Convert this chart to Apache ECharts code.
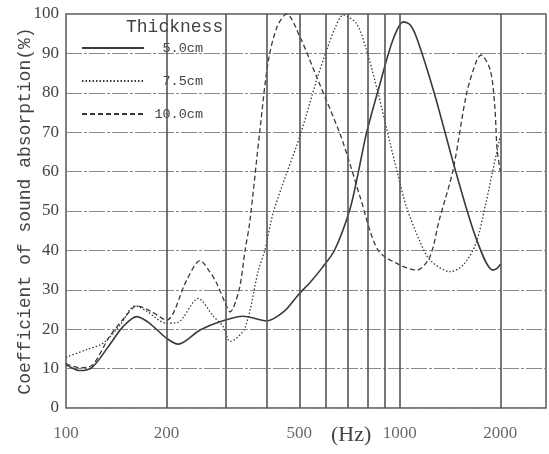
<!DOCTYPE html>
<html>
<head>
<meta charset="utf-8">
<script src="https://cdn.jsdelivr.net/npm/echarts@6/dist/echarts.min.js"></script>
<style>
  html, body { margin: 0; padding: 0; background: #fff; }
  #main { width: 549px; height: 454px; }
</style>
</head>
<body>
<div id="main"></div>
<script>
// 5.0cm (solid)
var curve50 = [[100, 11], [104, 10.2], [110, 9.5], [120, 10.4], [135, 16], [148, 20.6], [163, 23.2], [178, 21.5],
  [200, 17.7], [217, 16.2], [252, 19.8], [289, 21.9], [339, 23.3], [399, 22.1], [450, 24.5], [496, 28.7],
  [540, 32], [584, 35.5], [638, 40.1], [708, 50.3], [750, 59.6], [794, 69.7], [870, 82], [953, 93.4],
  [1025, 98], [1075, 97.2], [1129, 93.4], [1268, 79.9], [1475, 59.6], [1700, 42.6], [1900, 35],
  [1960, 35.5], [2000, 36.5]];
// 7.5cm (dotted)
var curve75 = [[100, 12.9], [115, 14.8], [129, 16.4], [145, 21], [161, 25.9], [175, 24.5], [200, 21.5],
  [216, 21.7], [249, 27.8], [275, 23.5], [296, 20.6], [310, 16.9], [343, 20.2], [377, 35], [394, 40],
  [417, 49.4], [458, 59.6], [502, 69], [563, 83.2], [604, 90.9], [640, 96.5], [676, 99.7], [741, 97.6],
  [794, 90.9], [860, 80], [935, 67.2], [990, 58.7], [1046, 51.1], [1144, 42.6], [1230, 37.6],
  [1417, 34.6], [1548, 36.3], [1690, 41.8], [1810, 52], [1900, 60.4], [2000, 69]];
// 10.0cm (dashed)
var curve100 = [[100, 11.3], [110, 10.2], [120, 10.9], [135, 18.1], [150, 23], [163, 25.9], [180, 24.5],
  [200, 22.3], [230, 32.5], [252, 37.4], [270, 34.5], [283, 31.6], [300, 26.6], [310, 24.4], [330, 30],
  [344, 40.1], [355, 47], [381, 70.6], [404, 88.3], [430, 97], [458, 100], [502, 94.2], [563, 84.1],
  [661, 69.7], [708, 62.1], [760, 53.6], [860, 40.1], [1000, 36.3], [1125, 35], [1230, 38.4],
  [1312, 47.7], [1443, 60.4], [1585, 79.9], [1700, 88.3], [1750, 89.6], [1865, 85.8], [1925, 76.5],
  [1956, 65.5], [2000, 60]];

var gridFreqs = [200, 300, 400, 500, 600, 700, 800, 900, 1000, 2000];
var tickFreqs = [100, 200, 500, 1000, 2000];
var names = ['5.0cm', '7.5cm', '10.0cm'];

var chart = echarts.init(document.getElementById('main'));

var lineColor = '#3a3a3a';
var mono = 'Liberation Mono';
var serif = 'Liberation Serif';

var option = {
  animation: false,
  backgroundColor: '#fff',
  title: [{
    text: 'Thickness',
    left: 126, top: 18, padding: 0,
    textStyle: { fontFamily: mono, fontSize: 18, fontWeight: 'normal', color: '#444' }
  }, {
    text: '(Hz)',
    left: 331, top: 424, padding: 0,
    textStyle: { fontFamily: serif, fontSize: 22, fontWeight: 'normal', color: '#444' }
  }],
  legend: {
    data: names,
    orient: 'vertical',
    left: 76, top: 36,
    itemWidth: 62, itemHeight: 14, itemGap: 19,
    itemStyle: { color: 'rgba(0,0,0,0)', borderWidth: 0 },
    formatter: function (n) { return '{a|' + n + '}'; },
    textStyle: {
      rich: { a: { width: 54, align: 'right', fontFamily: mono, fontSize: 13.5, color: '#444' } }
    }
  },
  grid: {
    left: 66, right: 3, top: 14, bottom: 46,
    outerBoundsMode: 'none',
    show: true, borderColor: '#555', borderWidth: 1.5
  },
  xAxis: {
    type: 'log', logBase: 10, min: 100, max: 2740,
    axisLine: { show: false }, axisTick: { show: false },
    axisLabel: { show: false }, splitLine: { show: false }
  },
  yAxis: {
    type: 'value', min: 0, max: 100, interval: 10,
    name: 'Coefficient of sound absorption(%)',
    nameLocation: 'middle', nameGap: 32, nameRotate: 90, nameMoveOverlap: false,
    nameTextStyle: { fontFamily: mono, fontSize: 18, color: '#444' },
    axisLine: { show: false }, axisTick: { show: false },
    axisLabel: { margin: 7, fontFamily: serif, fontSize: 17, color: '#444' },
    splitLine: { lineStyle: { color: '#888', width: 1.2, type: [16, 2, 3, 2] } }
  },
  series: [{
    name: '5.0cm', type: 'line', data: curve50, smooth: 0.3, symbol: 'none',
    lineStyle: { color: lineColor, width: 1.6 }, itemStyle: { color: lineColor },
    markLine: {
      silent: true, symbol: 'none', label: { show: false },
      lineStyle: { color: '#555', width: 1.6, type: 'solid' },
      data: gridFreqs.map(function (f) { return { xAxis: f }; })
    }
  }, {
    name: '7.5cm', type: 'line', data: curve75, smooth: 0.3, symbol: 'none',
    lineStyle: { color: lineColor, width: 1.3, type: [1.5, 2] }, itemStyle: { color: lineColor }
  }, {
    name: '10.0cm', type: 'line', data: curve100, smooth: 0.3, symbol: 'none',
    lineStyle: { color: lineColor, width: 1.3, type: [5, 3] }, itemStyle: { color: lineColor }
  }, {
    // x tick labels at chosen frequencies
    type: 'scatter', silent: true, symbolSize: 1,
    itemStyle: { color: 'rgba(0,0,0,0)' },
    data: tickFreqs.map(function (f) { return [f, 0]; }),
    label: {
      show: true, position: 'bottom', distance: 17,
      fontFamily: serif, fontSize: 17, color: '#444',
      formatter: function (p) { return p.value[0]; }
    }
  }]
};

chart.setOption(option);
</script>
</body>
</html>
